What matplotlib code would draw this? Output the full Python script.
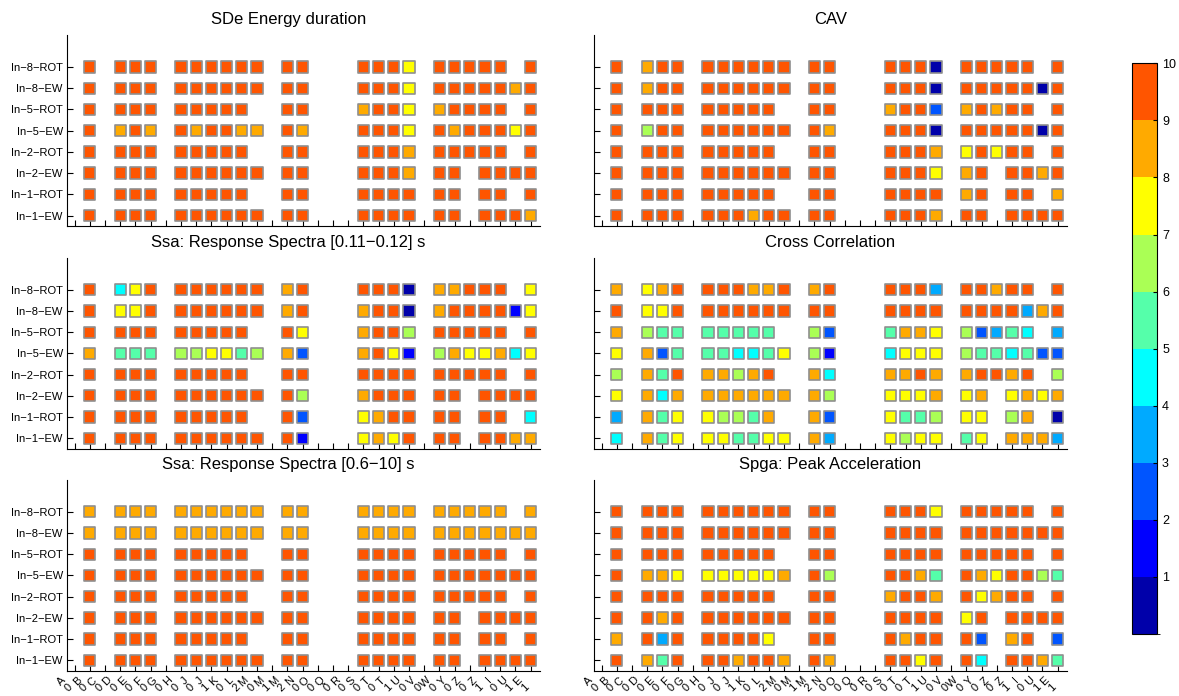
import numpy as np
import matplotlib
matplotlib.use("Agg")
import matplotlib.pyplot as plt
from matplotlib.colors import ListedColormap, BoundaryNorm
from matplotlib.cm import ScalarMappable

plt.rcParams['font.family'] = ['Liberation Sans', 'DejaVu Sans']

# x tick labels (31 stations), only some columns carry data
station_labels = ["A\n0", "B\n0", "C\n0", "D\n0", "E\n0", "F\n0", "G\n0", "H\n0", "J\n0", "J\n1",
                  "K\n0", "L\n2", "M\n0", "M\n1", "M\n2", "N\n0", "O\n0", "Q\n0", "R\n0", "S\n0",
                  "T\n0", "T\n1", "U\n0", "V\n0", "W\n0", "Y\n0", "Z\n0", "Z\n1", "I\n0", "U\n1", "E\n1"]
data_cols = [1, 3, 4, 5, 7, 8, 9, 10, 11, 12, 14, 15, 19, 20, 21, 22, 24, 25, 26, 27, 28, 29, 30]

# rows listed top -> bottom
row_labels = ["In\u22128\u2212ROT", "In\u22128\u2212EW", "In\u22125\u2212ROT", "In\u22125\u2212EW",
              "In\u22122\u2212ROT", "In\u22122\u2212EW", "In\u22121\u2212ROT", "In\u22121\u2212EW"]

n = np.nan

sde = [
    [9.5, 9.5, 9.5, 9.5, 9.5, 9.5, 9.5, 9.5, 9.5, 9.5, 9.5, 9.5, 9.5, 9.5, 9.5, 7.5, 9.5, 9.5, 9.5, 9.5, 9.5, n, 9.5],
    [9.5, 9.5, 9.5, 9.5, 9.5, 9.5, 9.5, 9.5, 9.5, 9.5, 9.5, 9.5, 9.5, 9.5, 9.5, 7.5, 9.5, 9.5, 9.5, 9.5, 9.5, 8.5, 9.5],
    [9.5, 9.5, 9.5, 9.5, 9.5, 9.5, 9.5, 9.5, 9.5, n, 9.5, 9.5, 8.5, 9.5, 9.5, 7.5, 8.5, 9.5, 9.5, 9.5, 9.5, n, 9.5],
    [9.5, 8.5, 9.5, 8.5, 9.5, 8.5, 9.5, 9.5, 8.5, 8.5, 9.5, 8.5, 9.5, 9.5, 9.5, 7.5, 9.5, 8.5, 9.5, 9.5, 9.5, 7.5, 9.5],
    [9.5, 9.5, 9.5, 9.5, 9.5, 9.5, 9.5, 9.5, 9.5, n, 9.5, 9.5, 9.5, 9.5, 9.5, 8.5, 9.5, 9.5, 9.5, 9.5, 9.5, n, 9.5],
    [9.5, 9.5, 9.5, 9.5, 9.5, 9.5, 9.5, 9.5, 9.5, 9.5, 9.5, 9.5, 9.5, 9.5, 9.5, 8.5, 9.5, 9.5, n, 9.5, 9.5, 9.5, 9.5],
    [9.5, 9.5, 9.5, 9.5, 9.5, 9.5, 9.5, 9.5, 9.5, n, 9.5, 9.5, 9.5, 9.5, 9.5, 9.5, 9.5, 9.5, n, 9.5, 9.5, n, 9.5],
    [9.5, 9.5, 9.5, 9.5, 9.5, 9.5, 9.5, 9.5, 9.5, 9.5, 9.5, 9.5, 9.5, 9.5, 9.5, 9.5, 9.5, 9.5, n, 9.5, 9.5, 9.5, 8.5],
]

cav = [
    [9.5, 8.5, 9.5, 9.5, 9.5, 9.5, 9.5, 9.5, 9.5, 9.5, 9.5, 9.5, 9.5, 9.5, 9.5, 0.5, 9.5, 9.5, 9.5, 9.5, 9.5, n, 9.5],
    [9.5, 8.5, 9.5, 9.5, 9.5, 9.5, 9.5, 9.5, 9.5, 9.5, 9.5, 9.5, 9.5, 9.5, 9.5, 0.5, 9.5, 9.5, 9.5, 9.5, 9.5, 0.5, 9.5],
    [9.5, 9.5, 9.5, 9.5, 9.5, 9.5, 9.5, 9.5, 9.5, n, 9.5, 9.5, 8.5, 9.5, 9.5, 2.5, 8.5, 9.5, 8.5, 9.5, 9.5, n, 9.5],
    [9.5, 6.5, 9.5, 9.5, 9.5, 9.5, 9.5, 9.5, 9.5, 9.5, 9.5, 8.5, 9.5, 9.5, 9.5, 0.5, 9.5, 9.5, 9.5, 9.5, 9.5, 0.5, 9.5],
    [9.5, 9.5, 9.5, 9.5, 9.5, 9.5, 9.5, 9.5, 9.5, n, 9.5, 9.5, 9.5, 9.5, 9.5, 8.5, 7.5, 9.5, 7.5, 9.5, 9.5, n, 9.5],
    [9.5, 9.5, 9.5, 9.5, 9.5, 9.5, 9.5, 9.5, 9.5, 9.5, 9.5, 9.5, 9.5, 9.5, 9.5, 7.5, 8.5, 9.5, n, 9.5, 9.5, 8.5, 9.5],
    [9.5, 9.5, 9.5, 9.5, 9.5, 9.5, 9.5, 9.5, 9.5, n, 9.5, 9.5, 9.5, 9.5, 9.5, 9.5, 8.5, 9.5, n, 9.5, 9.5, n, 8.5],
    [9.5, 9.5, 9.5, 9.5, 9.5, 9.5, 9.5, 8.5, 9.5, 9.5, 9.5, 9.5, 9.5, 9.5, 9.5, 8.5, 9.5, 9.5, n, 9.5, 9.5, 9.5, 9.5],
]

ssa_short = [
    [9.5, 4.5, 7.5, 9.5, 9.5, 9.5, 9.5, 9.5, 9.5, 9.5, 8.5, 9.5, 9.5, 9.5, 9.5, 0.5, 8.5, 8.5, 9.5, 9.5, 9.5, n, 7.5],
    [9.5, 7.5, 7.5, 9.5, 9.5, 9.5, 9.5, 9.5, 9.5, 9.5, 8.5, 9.5, 8.5, 9.5, 9.5, 0.5, 8.5, 9.5, 9.5, 9.5, 9.5, 1.5, 7.5],
    [9.5, 9.5, 9.5, 9.5, 9.5, 9.5, 9.5, 9.5, 9.5, n, 9.5, 7.5, 8.5, 9.5, 9.5, 6.5, 9.5, 9.5, 9.5, 9.5, 9.5, n, 9.5],
    [8.5, 5.5, 5.5, 5.5, 6.5, 6.5, 7.5, 7.5, 5.5, 6.5, 8.5, 2.5, 8.5, 9.5, 7.5, 1.5, 6.5, 8.5, 7.5, 7.5, 8.5, 4.5, 7.5],
    [9.5, 9.5, 9.5, 9.5, 9.5, 9.5, 9.5, 9.5, 9.5, n, 9.5, 9.5, 9.5, 9.5, 9.5, 9.5, 9.5, 9.5, 9.5, 9.5, 9.5, n, 9.5],
    [9.5, 9.5, 9.5, 9.5, 9.5, 9.5, 9.5, 9.5, 9.5, 9.5, 9.5, 6.5, 8.5, 9.5, 9.5, 9.5, 9.5, 9.5, n, 9.5, 9.5, 9.5, 9.5],
    [9.5, 9.5, 9.5, 9.5, 9.5, 9.5, 9.5, 9.5, 9.5, n, 9.5, 2.5, 7.5, 8.5, 9.5, 9.5, 9.5, 9.5, n, 9.5, 9.5, n, 4.5],
    [9.5, 9.5, 9.5, 9.5, 9.5, 9.5, 9.5, 9.5, 9.5, 9.5, 9.5, 1.5, 7.5, 8.5, 7.5, 9.5, 9.5, 9.5, n, 9.5, 9.5, 8.5, 8.5],
]

xcorr = [
    [8.5, 7.5, 8.5, 9.5, 9.5, 9.5, 9.5, 8.5, 8.5, 9.5, 8.5, 9.5, 9.5, 9.5, 9.5, 3.5, 9.5, 9.5, 8.5, 9.5, 9.5, n, 9.5],
    [9.5, 7.5, 7.5, 9.5, 9.5, 9.5, 9.5, 9.5, 9.5, 9.5, 9.5, 9.5, 9.5, 9.5, 9.5, 9.5, 9.5, 9.5, 9.5, 9.5, 3.5, 8.5, 9.5],
    [8.5, 6.5, 5.5, 5.5, 5.5, 5.5, 5.5, 5.5, 5.5, n, 6.5, 2.5, 5.5, 8.5, 8.5, 7.5, 6.5, 2.5, 3.5, 5.5, 4.5, n, 3.5],
    [7.5, 8.5, 2.5, 5.5, 5.5, 5.5, 4.5, 4.5, 5.5, 7.5, 6.5, 1.5, 4.5, 7.5, 7.5, 7.5, 6.5, 5.5, 5.5, 4.5, 5.5, 2.5, 2.5],
    [6.5, 8.5, 5.5, 9.5, 8.5, 8.5, 6.5, 8.5, 9.5, n, 8.5, 4.5, 8.5, 8.5, 9.5, 8.5, 8.5, 9.5, 9.5, 8.5, 9.5, n, 6.5],
    [7.5, 8.5, 4.5, 8.5, 8.5, 8.5, 8.5, 8.5, 8.5, 8.5, 8.5, 6.5, 7.5, 7.5, 7.5, 8.5, 7.5, 8.5, n, 7.5, 8.5, 7.5, 8.5],
    [3.5, 8.5, 5.5, 7.5, 7.5, 6.5, 6.5, 5.5, 8.5, n, 8.5, 2.5, 7.5, 5.5, 5.5, 6.5, 7.5, 7.5, n, 6.5, 8.5, n, 0.5],
    [4.5, 8.5, 5.5, 7.5, 7.5, 7.5, 5.5, 5.5, 7.5, 7.5, 8.5, 3.5, 7.5, 6.5, 7.5, 7.5, 5.5, 7.5, n, 8.5, 8.5, 8.5, 3.5],
]

ssa_long = [
    [8.5, 8.5, 8.5, 8.5, 8.5, 8.5, 8.5, 8.5, 8.5, 8.5, 8.5, 8.5, 8.5, 8.5, 8.5, 8.5, 8.5, 8.5, 8.5, 8.5, 8.5, n, 8.5],
    [8.5, 8.5, 8.5, 8.5, 8.5, 8.5, 8.5, 8.5, 8.5, 8.5, 8.5, 8.5, 8.5, 8.5, 8.5, 8.5, 8.5, 8.5, 8.5, 8.5, 8.5, 8.5, 8.5],
    [9.5, 9.5, 9.5, 9.5, 9.5, 9.5, 9.5, 9.5, 9.5, n, 9.5, 9.5, 9.5, 9.5, 9.5, 9.5, 9.5, 9.5, 9.5, 9.5, 9.5, n, 9.5],
    [9.5, 9.5, 9.5, 9.5, 9.5, 9.5, 9.5, 9.5, 9.5, 9.5, 9.5, 9.5, 9.5, 9.5, 9.5, 9.5, 9.5, 9.5, 9.5, 9.5, 9.5, 9.5, 9.5],
    [9.5, 9.5, 9.5, 9.5, 9.5, 9.5, 9.5, 9.5, 9.5, n, 9.5, 9.5, 9.5, 9.5, 9.5, 9.5, 9.5, 9.5, 9.5, 9.5, 9.5, n, 9.5],
    [9.5, 9.5, 9.5, 9.5, 9.5, 9.5, 9.5, 9.5, 9.5, 9.5, 9.5, 9.5, 9.5, 9.5, 9.5, 9.5, 9.5, 9.5, n, 9.5, 9.5, 9.5, 9.5],
    [9.5, 9.5, 9.5, 9.5, 9.5, 9.5, 9.5, 9.5, 9.5, n, 9.5, 9.5, 9.5, 9.5, 9.5, 9.5, 9.5, 9.5, n, 9.5, 9.5, n, 9.5],
    [9.5, 9.5, 9.5, 9.5, 9.5, 9.5, 9.5, 9.5, 9.5, 9.5, 9.5, 9.5, 9.5, 9.5, 9.5, 9.5, 9.5, 9.5, n, 9.5, 9.5, 9.5, 9.5],
]

spga = [
    [9.5, 9.5, 9.5, 9.5, 9.5, 9.5, 9.5, 9.5, 9.5, 9.5, 9.5, 9.5, 9.5, 9.5, 9.5, 7.5, 9.5, 9.5, 9.5, 9.5, 9.5, n, 9.5],
    [9.5, 9.5, 9.5, 9.5, 9.5, 9.5, 9.5, 9.5, 9.5, 9.5, 9.5, 9.5, 9.5, 9.5, 9.5, 9.5, 9.5, 9.5, 9.5, 9.5, 9.5, 9.5, 9.5],
    [9.5, 9.5, 9.5, 9.5, 9.5, 9.5, 9.5, 9.5, 9.5, n, 9.5, 9.5, 9.5, 9.5, 9.5, 9.5, 9.5, 9.5, 9.5, 9.5, 9.5, n, 9.5],
    [9.5, 8.5, 8.5, 7.5, 7.5, 7.5, 7.5, 7.5, 7.5, 8.5, 9.5, 6.5, 9.5, 9.5, 8.5, 5.5, 9.5, 8.5, 7.5, 9.5, 9.5, 6.5, 5.5],
    [9.5, 9.5, 9.5, 9.5, 9.5, 9.5, 9.5, 9.5, 9.5, n, 9.5, 9.5, 8.5, 9.5, 9.5, 8.5, 9.5, 7.5, 8.5, 9.5, 9.5, n, 9.5],
    [9.5, 9.5, 8.5, 9.5, 9.5, 9.5, 9.5, 9.5, 9.5, 9.5, 9.5, 9.5, 9.5, 9.5, 9.5, 9.5, 7.5, 9.5, n, 9.5, 9.5, 9.5, 9.5],
    [8.5, 9.5, 3.5, 9.5, 9.5, 9.5, 9.5, 9.5, 7.5, n, 9.5, 9.5, 9.5, 8.5, 9.5, 9.5, 9.5, 2.5, n, 8.5, 9.5, n, 2.5],
    [9.5, 8.5, 5.5, 9.5, 9.5, 9.5, 8.5, 9.5, 9.5, 8.5, 9.5, 8.5, 9.5, 9.5, 7.5, 9.5, 9.5, 4.5, n, 9.5, 9.5, 8.5, 5.5],
]

panel_titles = ["SDe Energy duration", "CAV",
                "Ssa: Response Spectra [0.11\u22120.12] s", "Cross Correlation",
                "Ssa: Response Spectra [0.6\u221210] s", "Spga: Peak Acceleration"]
panel_data = [sde, cav, ssa_short, xcorr, ssa_long, spga]

# MATLAB jet(10)
jet10 = ListedColormap([
    (0, 0, 0.6667), (0, 0, 1), (0, 0.3333, 1), (0, 0.6667, 1), (0, 1, 1),
    (0.3333, 1, 0.6667), (0.6667, 1, 0.3333), (1, 1, 0), (1, 0.6667, 0), (1, 0.3333, 0)])
norm = BoundaryNorm(np.arange(0, 11), jet10.N)

fig = plt.figure(figsize=(11.79, 6.96), dpi=100)
lefts = [0.0568, 0.5038]
bottoms = [0.675, 0.355, 0.036]
w, h = 0.401, 0.2745
title_x = [0.468, 0.5]

n_rows = len(row_labels)
for i, (title, vals) in enumerate(zip(panel_titles, panel_data)):
    r, c = divmod(i, 2)
    ax = fig.add_axes([lefts[c], bottoms[r], w, h])
    vals = np.array(vals, dtype=float)
    xs, ys, cs = [], [], []
    for ri in range(n_rows):
        yy = n_rows - ri
        for ci, col in enumerate(data_cols):
            if not np.isnan(vals[ri, ci]):
                xs.append(col)
                ys.append(yy)
                cs.append(vals[ri, ci])
    ax.scatter(xs, ys, c=cs, cmap=jet10, norm=norm, marker='s', s=66,
               edgecolors='#8f8f8f', linewidths=1.2, zorder=3)
    ax.set_xlim(-0.5, 30.6)
    ax.set_ylim(0.5, 9.5)
    ax.set_yticks(range(1, n_rows + 1))
    if c == 0:
        ax.set_yticklabels(row_labels[::-1], fontsize=8)
    else:
        ax.set_yticklabels([])
    ax.set_xticks(range(len(station_labels)))
    if r == 2:
        ax.set_xticklabels(station_labels, rotation=45, ha='right', va='top',
                           fontsize=8, linespacing=0.9)
    else:
        ax.set_xticklabels([])
    ax.tick_params(direction='in', length=4, width=0.8, pad=3)
    ax.spines['top'].set_visible(False)
    ax.spines['right'].set_visible(False)
    ax.set_title(title, fontsize=12, pad=8, x=title_x[c])

cax = fig.add_axes([0.9605, 0.089, 0.021, 0.820])
cb = fig.colorbar(ScalarMappable(norm=norm, cmap=jet10), cax=cax)
cb.set_ticks(range(1, 11))
cb.ax.tick_params(labelsize=9, direction='in', length=3)
cb.outline.set_linewidth(0.8)

fig.savefig("out.png", dpi=100)
